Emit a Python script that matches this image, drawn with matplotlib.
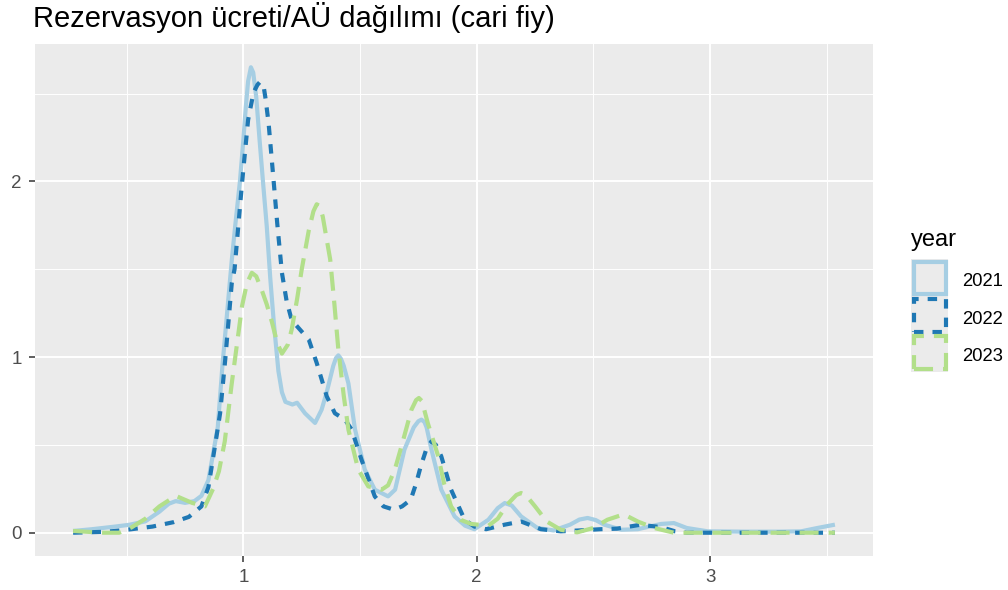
import matplotlib
matplotlib.use("Agg")
import matplotlib.pyplot as plt
from matplotlib.patches import Rectangle
import numpy as np

plt.rcParams['font.family'] = ['Liberation Sans', 'DejaVu Sans']
plt.rcParams['lines.scale_dashes'] = False

title = "Rezervasyon ücreti/AÜ dağılımı (cari fiy)"
legend_title = "year"
years = ["2021", "2022", "2023"]
colors = ["#A6CEE3", "#1F78B4", "#B2DF8A"]

x_2021 = [0.27, 0.35, 0.45, 0.51, 0.58, 0.64, 0.68, 0.71, 0.75, 0.79, 0.82, 0.85, 0.87, 0.89,
          0.91, 0.93, 0.95, 0.965, 0.985, 1.00, 1.01, 1.02, 1.032, 1.042, 1.055, 1.069, 1.085, 1.10, 1.115,
          1.13, 1.15, 1.165, 1.18, 1.21, 1.23, 1.264, 1.307, 1.335, 1.357, 1.385, 1.397, 1.407, 1.418, 1.43, 1.45,
          1.478, 1.52, 1.563, 1.62, 1.65, 1.69, 1.73, 1.75, 1.763, 1.776, 1.785, 1.806, 1.848, 1.905, 1.95,
          1.99, 2.05, 2.09, 2.12, 2.15, 2.19, 2.26, 2.33, 2.40, 2.44, 2.475, 2.51, 2.546, 2.62, 2.69, 2.79,
          2.845, 2.90, 2.99, 3.15, 3.30, 3.39, 3.46, 3.535]
y_2021 = [0.01, 0.02, 0.035, 0.045, 0.065, 0.12, 0.165, 0.18, 0.17, 0.18, 0.21, 0.30, 0.45, 0.60,
          0.95, 1.25, 1.55, 1.75, 2.00, 2.24, 2.42, 2.57, 2.65, 2.62, 2.48, 2.24, 1.98, 1.745, 1.45,
          1.20, 0.92, 0.80, 0.745, 0.73, 0.74, 0.68, 0.625, 0.70, 0.80, 0.95, 0.995, 1.01, 0.99, 0.95, 0.85,
          0.59, 0.36, 0.245, 0.207, 0.245, 0.473, 0.60, 0.635, 0.644, 0.63, 0.60, 0.473, 0.245, 0.093, 0.04,
          0.02, 0.074, 0.14, 0.169, 0.155, 0.093, 0.027, 0.013, 0.046, 0.075, 0.084, 0.072, 0.046, 0.017, 0.02,
          0.05, 0.055, 0.027, 0.008, 0.006, 0.006, 0.008, 0.027, 0.046]

x_2022 = [0.27, 0.40, 0.45, 0.52, 0.61, 0.70, 0.766, 0.82, 0.85, 0.887, 0.90, 0.922, 0.95, 0.962,
          0.994, 1.02, 1.043, 1.06, 1.07, 1.079, 1.088, 1.095, 1.108, 1.129, 1.145, 1.165, 1.185, 1.207, 1.236,
          1.26, 1.28, 1.314, 1.357, 1.392, 1.435, 1.464, 1.506, 1.563, 1.60, 1.645, 1.68, 1.717,
          1.74, 1.76, 1.785, 1.806, 1.825, 1.848, 1.89, 1.948, 1.99, 2.04, 2.12, 2.19, 2.275,
          2.36, 2.44, 2.53, 2.60, 2.70, 2.79, 2.85, 2.90, 3.535]
y_2022 = [0.0, 0.005, 0.01, 0.02, 0.035, 0.06, 0.09, 0.15, 0.26, 0.568, 0.68, 0.985, 1.42, 1.50,
          1.99, 2.35, 2.505, 2.55, 2.565, 2.56, 2.53, 2.47, 2.33, 2.01, 1.76, 1.48, 1.32, 1.21, 1.166,
          1.13, 1.10, 0.967, 0.777, 0.68, 0.644, 0.587, 0.416, 0.207, 0.15, 0.131, 0.15, 0.188,
          0.28, 0.378, 0.48, 0.52, 0.50, 0.435, 0.245, 0.074, 0.035, 0.02, 0.046, 0.064, 0.02,
          0.008, 0.013, 0.02, 0.023, 0.045, 0.032, 0.008, 0.0, 0.0]

x_2023 = [0.27, 0.40, 0.467, 0.52, 0.58, 0.64, 0.71, 0.78, 0.835, 0.87, 0.895, 0.92, 0.95, 0.994,
          1.015, 1.036, 1.055, 1.079, 1.10, 1.122, 1.145, 1.165, 1.19, 1.207, 1.23, 1.25, 1.28,
          1.30, 1.314, 1.327, 1.34, 1.372, 1.39, 1.407, 1.43, 1.45, 1.492, 1.535, 1.592, 1.62, 1.649, 1.677,
          1.72, 1.74, 1.752, 1.765, 1.79, 1.835, 1.86, 1.89, 1.93, 1.976, 2.05, 2.09, 2.13, 2.17, 2.19, 2.21,
          2.25, 2.30, 2.36, 2.43, 2.50, 2.56, 2.63, 2.69, 2.76, 2.845, 3.535]
y_2023 = [0.01, 0.0, 0.0, 0.03, 0.08, 0.15, 0.21, 0.17, 0.15, 0.25, 0.35, 0.52, 0.85, 1.29,
          1.42, 1.48, 1.46, 1.38, 1.30, 1.20, 1.08, 1.02, 1.07, 1.157, 1.33, 1.50, 1.72,
          1.83, 1.87, 1.86, 1.80, 1.555, 1.30, 1.04, 0.78, 0.587, 0.36, 0.264, 0.245, 0.27, 0.36, 0.49,
          0.70, 0.755, 0.767, 0.75, 0.625, 0.435, 0.28, 0.15, 0.074, 0.05, 0.04, 0.08, 0.16, 0.215, 0.226, 0.215,
          0.15, 0.064, 0.017, 0.002, 0.027, 0.074, 0.105, 0.064, 0.027, 0.0, 0.0]

x_ticks = [1, 2, 3]
y_ticks = [0, 1, 2]

series = [(x_2021, y_2021), (x_2022, y_2022), (x_2023, y_2023)]
styles = ["-", (0, (6.8, 6.5)), (0, (13.7, 7.2))]

W, H = 1008, 590
fig = plt.figure(figsize=(W / 100, H / 100), dpi=100)
fig.patch.set_facecolor("white")

def fx(px):
    return px / W

def fy(py):
    return 1 - py / H

ax = fig.add_axes([fx(35), fy(556), fx(873) - fx(35), fy(44) - fy(556)])
ax.set_facecolor("#EBEBEB")
for s in ax.spines.values():
    s.set_visible(False)

for (xs, ys), c, ls in zip(series, colors, styles):
    ax.plot(xs, ys, color=c, lw=3.0, linestyle=ls, solid_capstyle="butt",
            solid_joinstyle="round", dash_joinstyle="round", zorder=3)

allx = np.concatenate([np.asarray(s[0]) for s in series])
ally = np.concatenate([np.asarray(s[1]) for s in series])
xr = allx.max() - allx.min()
yr = ally.max() - ally.min()
ax.set_xlim(allx.min() - 0.05 * xr, allx.max() + 0.05 * xr)
ax.set_ylim(ally.min() - 0.05 * yr, ally.max() + 0.05 * yr)

ax.set_xticks(x_ticks)
ax.set_yticks(y_ticks)
ax.set_xticklabels([str(t) for t in x_ticks])
ax.set_yticklabels([str(t) for t in y_ticks])
ax.set_xticks([0.5, 1.5, 2.5, 3.5], minor=True)
ax.set_yticks([0.5, 1.5, 2.5], minor=True)
ax.grid(which="major", color="white", lw=1.4, zorder=1)
ax.grid(which="minor", color="white", lw=0.7, zorder=1)
ax.set_axisbelow(True)
ax.tick_params(which="major", length=4, width=1.1, color="#333333", labelcolor="#4D4D4D",
               labelsize=13.5)
ax.tick_params(axis="x", which="major", pad=5.5)
ax.tick_params(axis="y", which="major", pad=5.5)
ax.tick_params(which="minor", length=0)

fig.text(fx(33), fy(27), title, fontsize=21, color="black", ha="left", va="baseline")

# legend
fig.text(fx(911), fy(246), legend_title, fontsize=17, color="black", ha="left", va="baseline")
cell_h = 37.5
top0 = 259
for i, (yr_lbl, c, ls) in enumerate(zip(years, colors, styles)):
    ctop = top0 + i * cell_h
    fig.add_artist(Rectangle((fx(911), fy(ctop + cell_h)), fx(948) - fx(911), fy(ctop) - fy(ctop + cell_h),
                             transform=fig.transFigure, facecolor="#EBEBEB", edgecolor="none", zorder=1))
    ins = 2.5
    fig.add_artist(Rectangle((fx(911 + ins), fy(ctop + cell_h - ins)), fx(948 - ins) - fx(911 + ins),
                             fy(ctop + ins) - fy(ctop + cell_h - ins),
                             transform=fig.transFigure, facecolor="none", edgecolor=c, lw=3.0,
                             linestyle=ls, zorder=2))
    fig.text(fx(962), fy(ctop + cell_h / 2 + 2), yr_lbl, fontsize=13.3, color="black", ha="left",
             va="center_baseline")

fig.savefig("out.png", dpi=100)
